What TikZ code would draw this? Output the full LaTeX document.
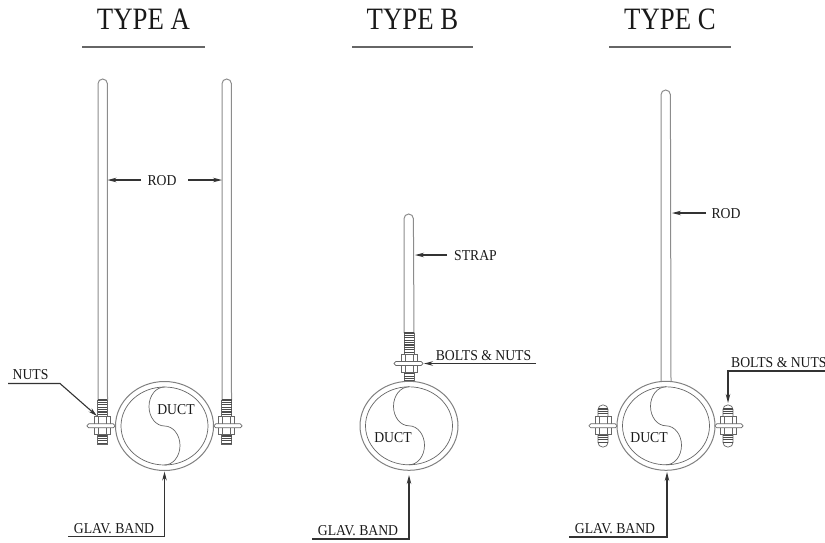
\documentclass[tikz,border=0pt]{standalone}
\usepackage{fontspec}
\setmainfont{Liberation Serif}
\usetikzlibrary{arrows.meta}
\newcommand{\tallT}[1]{\scalebox{1}[1.16]{#1}}
\newcommand{\tallL}[1]{\scalebox{1}[1.1]{#1}}
\tikzset{
  x=1pt,y=-1pt,
  title/.style={font=\fontsize{26.8}{28}\selectfont,text=black!90,inner sep=0pt,anchor=base},
  lab/.style={font=\fontsize{13.7}{15}\selectfont,text=black!90,inner sep=0pt,anchor=base},
  rule/.style={line width=1.3pt,draw=black!60},
  rodline/.style={line width=1pt,draw=black!45},
  bandline/.style={line width=1pt,draw=black!50},
  ductline/.style={line width=0.7pt,draw=black!60},
  leader/.style={line width=1.1pt,draw=black!80},
  arrowed/.style={leader,-{Stealth[length=9pt,width=4.5pt]}},
  thread/.style={line width=1.1pt,draw=black!70},
  hard/.style={line width=0.7pt,draw=black!60,fill=white},
}
% threads: x centre, y from, y to
\newcommand{\threadrun}[3]{%
  \draw[hard,fill=none] (#1-5,#2) rectangle (#1+5,#3);
  \pgfmathsetmacro{\ystepnext}{#2+2.4}
  \foreach \yy in {#2,\ystepnext,...,#3}{\draw[thread] (#1-4.7,\yy) -- (#1+4.7,\yy);}%
}
% nut and plate: x nut centre, y centre, plate left, plate right
\newcommand{\nutplate}[4]{%
  \draw[hard] (#1-8,#2-9) rectangle (#1+8,#2+9);
  \draw[hard,fill=none] (#1-4,#2-9) -- (#1-4,#2+9) (#1+4,#2-9) -- (#1+4,#2+9);
  \draw[hard,rounded corners=1.8pt] (#3,#2-2) rectangle (#4,#2+2);
}
% band with S-curve: centre x, centre y
\newcommand{\ductband}[2]{%
  \draw[bandline] (#1,#2) ellipse [x radius=49,y radius=44.5];
  \draw[ductline] (#1,#2) ellipse [x radius=43.5,y radius=39];
  \draw[ductline] (#1,#2-39) arc [start angle=90,end angle=270,x radius=15.5,y radius=-19.5]
     arc [start angle=90,end angle=-90,x radius=15.5,y radius=-19.5];
}
% rod with rounded top: left x, right x, top y, bottom y
\newcommand{\rodshape}[4]{%
  \draw[rodline] (#1,#4) -- (#1,#3+4.7) arc [start angle=180,end angle=360,radius=4.7] -- (#2,#4);
}
% capped bolt, type C
\newcommand{\capbolt}[1]{%
  \draw[hard,rounded corners=4.5pt] (#1-5,405) rectangle (#1+5,447);
  \foreach \yy in {409,411.4,...,418}{\draw[thread] (#1-4.7,\yy) -- (#1+4.7,\yy);}
  \foreach \yy in {435,437.4,...,444}{\draw[thread] (#1-4.7,\yy) -- (#1+4.7,\yy);}
}
\begin{document}
\begin{tikzpicture}
\useasboundingbox (0,0) rectangle (825,542);
% titles
\node[title] (ta) at (143.5,29) {\tallT{TYPE A}};
\node[title] (tb) at (412.5,29) {\tallT{TYPE B}};
\node[title] (tc) at (670,29) {\tallT{TYPE C}};
\draw[rule] (82,47) -- (205,47);
\draw[rule] (352,47) -- (473,47);
\draw[rule] (609,47) -- (731,47);

% TYPE A
\rodshape{98}{107.5}{79}{400}
\rodshape{222}{231.5}{79}{400}
\threadrun{102.7}{400}{444}
\threadrun{226.8}{400}{444}
\nutplate{102.7}{425.8}{87}{115}
\nutplate{226.8}{425.8}{214}{242}
\ductband{164.5}{426}
\node[lab] (ductA) at (176,414.5) {\tallL{DUCT}};
\coordinate (rodAl) at (107.5,180);
\coordinate (rodAr) at (222,180);
\node[lab] (rodA) at (162,185) {\tallL{ROD}};
\draw[arrowed] (141,180) -- (rodAl);
\draw[arrowed] (188,180) -- (rodAr);
\node[lab] (nutsA) at (30.5,379) {\tallL{NUTS}};
\coordinate (nutsS) at (8,383.5);
\coordinate (nutsK) at (60,383.5);
\coordinate (nutsE) at (97,416);
\draw[arrowed] (nutsS) -- (nutsK) -- (nutsE);
\node[lab] (glavA) at (114,533) {\tallL{GLAV. BAND}};
\coordinate (glavAs) at (68,536.5);
\coordinate (glavAk) at (164.5,536.5);
\coordinate (glavAe) at (164.5,471.5);
\draw[arrowed] (glavAs) -- (glavAk) -- (glavAe);

% TYPE B
\rodshape{404}{414}{214}{333}
\threadrun{409}{333}{381}
\nutplate{409}{363.5}{394}{423}
\ductband{409}{425.8}
\node[lab] (ductB) at (393,442) {\tallL{DUCT}};
\coordinate (strapE) at (415,255);
\coordinate (strapS) at (447,255);
\draw[arrowed] (strapS) -- (strapE);
\node[lab] (strap) at (475.5,260) {\tallL{STRAP}};
\node[lab] (boltsB) at (483.5,360) {\tallL{BOLTS \& NUTS}};
\coordinate (boltsBs) at (536,363.5);
\coordinate (boltsBe) at (424,363.5);
\draw[arrowed] (boltsBs) -- (boltsBe);
\node[lab] (glavB) at (358,535) {\tallL{GLAV. BAND}};
\coordinate (glavBs) at (312,539);
\coordinate (glavBk) at (409,539);
\coordinate (glavBe) at (409,475);
\draw[arrowed] (glavBs) -- (glavBk) -- (glavBe);

% TYPE C
\rodshape{661}{671}{90}{381}
\capbolt{603}
\capbolt{728}
\nutplate{603}{425.8}{589}{617}
\nutplate{728}{425.8}{715}{743}
\ductband{666}{425.8}
\node[lab] (ductC) at (649,442) {\tallL{DUCT}};
\coordinate (rodCe) at (672,213);
\coordinate (rodCs) at (706,213);
\draw[arrowed] (rodCs) -- (rodCe);
\node[lab] (rodC) at (726,218) {\tallL{ROD}};
\node[lab,anchor=base west] (boltsC) at (731,367) {\tallL{BOLTS \& NUTS}};
\coordinate (boltsCs) at (825,371);
\coordinate (boltsCk) at (728,371);
\coordinate (boltsCe) at (728,403);
\draw[arrowed] (boltsCs) -- (boltsCk) -- (boltsCe);
\node[lab] (glavC) at (615,533) {\tallL{GLAV. BAND}};
\coordinate (glavCs) at (569,537);
\coordinate (glavCk) at (667,537);
\coordinate (glavCe) at (667,472);
\draw[arrowed] (glavCs) -- (glavCk) -- (glavCe);
\end{tikzpicture}
\end{document}
